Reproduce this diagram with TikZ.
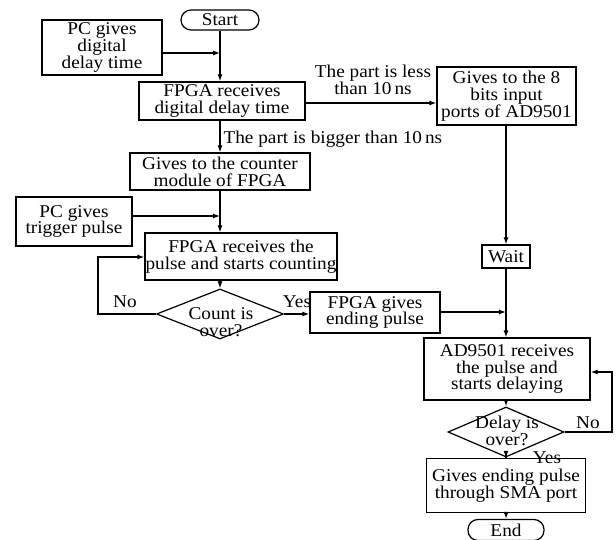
\documentclass[tikz,border=0pt]{standalone}
\usepackage{fontspec}
\setmainfont{Liberation Serif}[FakeStretch=1.07]
\usetikzlibrary{shapes.geometric,arrows.meta}
\newcommand\dfont{\fontsize{18}{16.8}\selectfont}
\begin{document}
\begin{tikzpicture}[x=1pt,y=-1pt,
  line width=1.2pt,
  box/.style={draw,align=center,inner sep=0pt,font=\dfont},
  term/.style={box,rounded corners=10pt},
  dec/.style={draw,diamond,inner sep=0pt},
  lbl/.style={align=center,inner sep=0pt,font=\dfont},
  arr/.style={-{Latex[length=7pt,width=5pt]}}]
\useasboundingbox (0,0) rectangle (616,540);
% nodes
\node[term,minimum width=78pt,minimum height=20pt] (start) at (220,20) {Start};
\node[box,minimum width=120pt,minimum height=55pt] (pc1) at (102,47.5) {PC gives\\digital\\delay time};
\node[box,minimum width=166pt,minimum height=38pt] (fpga1) at (222,101) {FPGA receives\\digital delay time};
\node[box,minimum width=139pt,minimum height=58pt] (ad8) at (506.5,96) {Gives to the 8\\bits input\\ports of AD9501};
\node[box,minimum width=180pt,minimum height=37pt] (counter) at (220,171.5) {Gives to the counter\\module of FPGA};
\node[box,minimum width=116pt,minimum height=49pt] (pc2) at (74,221.5) {PC gives\\trigger pulse};
\node[box,minimum width=192pt,minimum height=47pt] (fpga2) at (241,256.5) {FPGA receives the\\pulse and starts counting};
\node[dec,minimum width=127pt,minimum height=50pt] (count) at (220,314) {};
\node[lbl] (countt) at (221,322) {Count is\\over?};
\node[box,minimum width=130pt,minimum height=41pt] (fgive) at (375,312.5) {FPGA gives\\ending pulse};
\node[box,minimum width=48pt,minimum height=23pt] (wait) at (506,256.5) {Wait};
\node[box,minimum width=166pt,minimum height=62pt] (ad95) at (507,369) {AD9501 receives\\the pulse and\\starts delaying};
\node[dec,minimum width=116pt,minimum height=50pt] (delay) at (506,432) {};
\node[lbl] (delayt) at (507,431) {Delay is\\over?};
\node[box,minimum width=159pt,minimum height=54pt] (gend) at (506,485.5) {Gives ending pulse\\through SMA port};
\node[term,minimum width=76pt,minimum height=21pt] (end) at (506,530) {End};
% connectors
\coordinate (j1) at (220,53);
\draw[arr] (pc1.east |- j1) -- (j1);
\draw[arr] (start.south) -- (start.south |- fpga1.north);
\coordinate (j2) at (370,103);
\draw[arr] (fpga1.east |- j2) -- (ad8.west |- j2);
\node[lbl] (less) at (373,80) {The part is less\\than 10\,ns};
\draw[arr] (start.south |- fpga1.south) -- (start.south |- counter.north);
\node[lbl,anchor=west] (bigger) at (223,139) {The part is bigger than 10\,ns};
\draw[arr] (counter.south) -- (counter.south |- fpga2.north);
\coordinate (j3) at (220,216);
\draw[arr] (pc2.east |- j3) -- (j3);
\draw[arr] (counter.south |- fpga2.south) -- (count.north);
\coordinate (l1) at (98,257);
\draw[arr] (count.west) -| (l1) -- (fpga2.west |- l1);
\node[lbl] (no1) at (125,302) {No};
\draw[arr] (count.east) -- (fgive.west |- count.east);
\node[lbl] (yes1) at (297,302) {Yes};
\coordinate (j4) at (506,312);
\draw[arr] (fgive.east |- j4) -- (j4);
\draw[arr] (wait.north |- ad8.south) -- (wait.north);
\draw[arr] (wait.south) -- (wait.south |- ad95.north);
\draw[arr] (wait.south |- ad95.south) -- (delay.north);
\coordinate (r1) at (612,372);
\draw[arr] (delay.east) -| (r1) -- (ad95.east |- r1);
\node[lbl] (no2) at (588,423) {No};
\draw[arr] (delay.south) -- (gend.north);
\node[lbl] (yes2) at (547,458) {Yes};
\draw[arr] (gend.south) -- (end.north);
\end{tikzpicture}
\end{document}
